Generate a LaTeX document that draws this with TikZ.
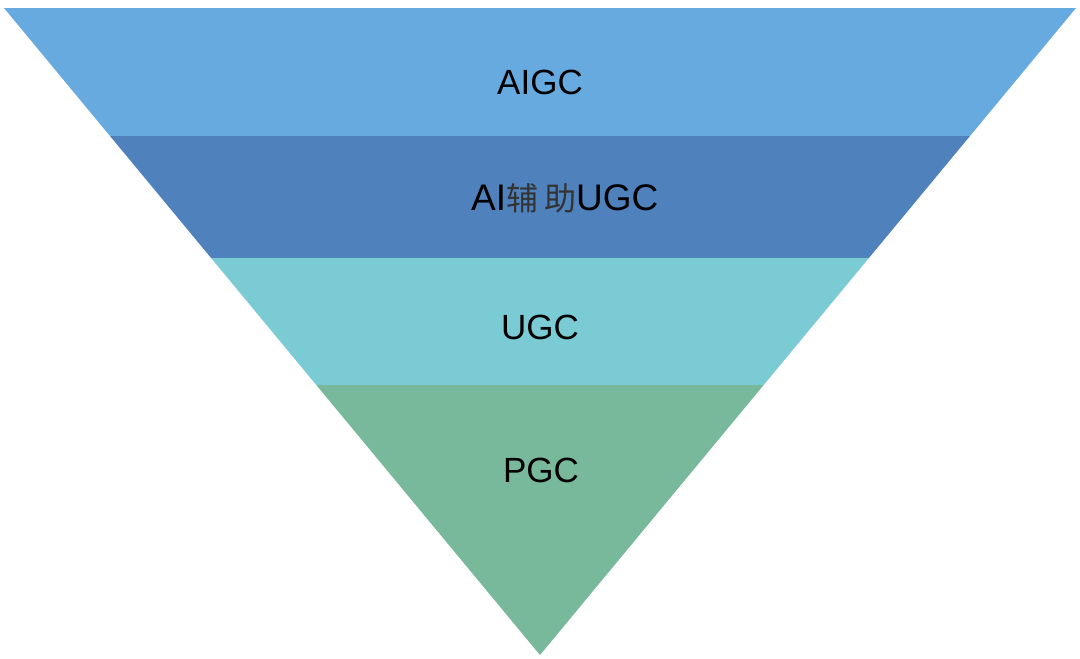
\documentclass[tikz,border=0pt]{standalone}
\usepackage{fontspec}
\setmainfont{Liberation Sans}
\newfontfamily\cjk{Noto Sans CJK SC}
\definecolor{bandA}{HTML}{66AADF}
\definecolor{bandB}{HTML}{4F81BD}
\definecolor{bandC}{HTML}{7BCBD5}
\definecolor{bandD}{HTML}{78B89B}
\begin{document}
\begin{tikzpicture}[x=1pt,y=-1pt,
  band/.style={draw=none},
  lbl/.style={inner sep=0pt,anchor=base,font=\fontsize{35}{35}\selectfont,text=black}]
\useasboundingbox (0,0) rectangle (1080,659);
\fill[white] (0,0) rectangle (1080,659);
% triangle: (4,8)-(1078,8)-(540,655); slope dx/dy = 536/647
\coordinate (TL) at (4,8);
\coordinate (TR) at (1076,8);
\coordinate (L1) at (110.0,136);
\coordinate (R1) at (970.0,136);
\coordinate (L2) at (211.1,258);
\coordinate (R2) at (868.9,258);
\coordinate (L3) at (316.3,385);
\coordinate (R3) at (763.7,385);
\coordinate (AP) at (540,655);
\fill[bandA,band] (TL) -- (TR) -- (R1) -- (L1) -- cycle;
\fill[bandB,band] (L1) -- (R1) -- (R2) -- (L2) -- cycle;
\fill[bandC,band] (L2) -- (R2) -- (R3) -- (L3) -- cycle;
\fill[bandD,band] (L3) -- (R3) -- (AP) -- cycle;
\node[lbl] (t1) at (540,94) {AIGC};
\node[lbl,anchor=base west,font=\fontsize{37}{37}\selectfont] (t2) at (471,210) {AI{\cjk\fontsize{32}{32}\selectfont\color{black!80}辅\hspace{6pt}助}UGC};
\node[lbl] (t3) at (540,339) {UGC};
\node[lbl] (t4) at (541,482) {PGC};
\end{tikzpicture}
\end{document}
